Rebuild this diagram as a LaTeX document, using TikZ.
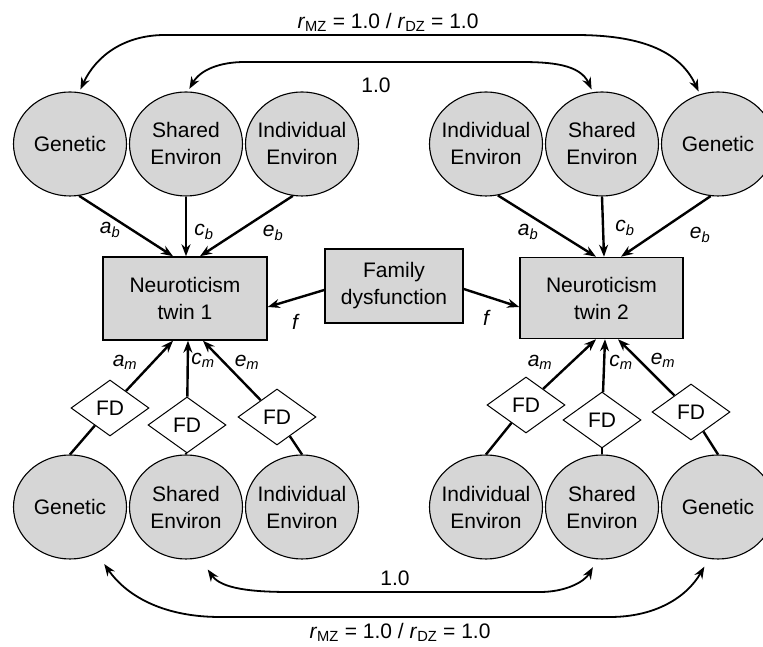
\documentclass[tikz,border=0pt]{standalone}
\usepackage{fontspec}
\setmainfont{Liberation Sans}
\usetikzlibrary{shapes.geometric,arrows.meta}
\definecolor{latentgray}{RGB}{214,214,214}

\begin{document}
\begin{tikzpicture}[x=1pt,y=1pt,>={Stealth[length=12pt,width=9pt]},node distance=116pt,
    font=\fontsize{21}{27}\selectfont,
    latent/.style={ellipse,draw,line width=1.1pt,fill=latentgray,minimum width=113pt,minimum height=104pt,inner xsep=-5pt,inner ysep=0pt,align=center},
    obs/.style={rectangle,draw,line width=1.5pt,fill=latentgray,inner sep=0pt,align=center},
    fdnode/.style={diamond,draw,line width=1pt,fill=white,minimum width=78pt,minimum height=56pt,inner sep=0pt},
    link/.style={-,line width=2.4pt},
    load/.style={->,line width=2.4pt},
    corr/.style={<->,line width=1.8pt},
    lbl/.style={font=\fontsize{21}{24}\selectfont\itshape}]

\useasboundingbox (0,0) rectangle (763,647);

% twin 1, biometric factors above
\node[latent] (gen1) at (70,503) {Genetic};
\node[latent] (sha1) [right of = gen1] {Shared\\Environ};
\node[latent] (ind1) [right of = sha1] {Individual\\Environ};
% twin 2
\node[latent] (gen2) at (718,503) {Genetic};
\node[latent] (sha2) [left of = gen2] {Shared\\Environ};
\node[latent] (ind2) [left of = sha2] {Individual\\Environ};

% moderated factors below
\node[latent] (gen3) [below of = gen1, node distance=363pt] {Genetic};
\node[latent] (sha3) [below of = sha1, node distance=363pt] {Shared\\Environ};
\node[latent] (ind3) [below of = ind1, node distance=363pt] {Individual\\Environ};
\node[latent] (gen4) [below of = gen2, node distance=363pt] {Genetic};
\node[latent] (sha4) [below of = sha2, node distance=363pt] {Shared\\Environ};
\node[latent] (ind4) [below of = ind2, node distance=363pt] {Individual\\Environ};

% phenotypes and moderator
\node[obs, minimum width=164pt, minimum height=83pt] (tw1) at (185,348.5) {Neuroticism\\twin 1};
\node[obs, minimum width=163pt, minimum height=81pt] (tw2) at (601.5,349) {Neuroticism\\twin 2};
\node[obs, minimum width=138pt, minimum height=74pt] (fam) at (394,361) {Family\\dysfunction};

\node[fdnode] (fd1) at (110,239) {FD};
\node[fdnode] (fd2) at (187,222) {FD};
\node[fdnode] (fd3) at (277,230) {FD};
\node[fdnode] (fd4) at (526,242) {FD};
\node[fdnode] (fd5) at (602,227) {FD};
\node[fdnode] (fd6) at (691,235) {FD};

% paths from the upper factors
\draw[load] (gen1.-80) -- ([xshift=-12pt]tw1.north);
\draw[load] (sha1.south) -- ([xshift=1pt]tw1.north);
\draw[load] (ind1.-100) -- ([xshift=15pt]tw1.north);
\draw[load] (ind2.-77) -- ([xshift=-5.5pt]tw2.north);
\draw[load] (sha2.south) -- ([xshift=2.5pt]tw2.north);
\draw[load] (gen2.-98) -- ([xshift=19.5pt]tw2.north);

% moderated paths through FD
\draw[link] (gen3.north) -- (fd1);
\draw[load] (fd1) -- ([xshift=-12pt]tw1.south);
\draw[link] (sha3.north) -- (fd2);
\draw[load] (fd2) -- ([xshift=3pt]tw1.south);
\draw[link] (ind3.north) -- (fd3);
\draw[load] (fd3) -- ([xshift=18pt]tw1.south);
\draw[link] (ind4.north) -- (fd4);
\draw[load] (fd4) -- ([xshift=-5.5pt]tw2.south);
\draw[link] (sha4.north) -- (fd5);
\draw[load] (fd5) -- ([xshift=3.5pt]tw2.south);
\draw[link] (gen4.north) -- (fd6);
\draw[load] (fd6) -- ([xshift=16.5pt]tw2.south);

% family dysfunction main effect
\draw[load] ([yshift=-4pt]fam.west) -- ([yshift=-8.5pt]tw1.east);
\draw[load] ([yshift=-3pt]fam.east) -- ([yshift=-9pt]tw2.west);

% cross-twin correlations
\coordinate (ot1) at (165,612);
\coordinate (ot2) at (575,612);
\coordinate (it1) at (245,585);
\coordinate (it2) at (520,585);
\coordinate (ob1) at (220,30);
\coordinate (ob2) at (610,30);
\coordinate (ib1) at (290,55);
\coordinate (ib2) at (540,55);
\draw[corr, shorten <=3pt, shorten >=3pt] (gen1.80) to[out=65,in=180] (ot1) -- (ot2) to[out=0,in=115] (gen2.110);
\draw[corr, shorten <=3pt, shorten >=3pt] (sha1.88) to[out=60,in=180] (it1) -- (it2) to[out=0,in=115] (sha2.100);
\draw[corr, shorten <=13pt, shorten >=9pt] (gen3.-60) to[out=-55,in=180] (ob1) -- (ob2) to[out=0,in=-120] (gen4.-100);
\draw[corr, shorten <=14pt, shorten >=9pt] (sha3.-75) to[out=-55,in=180] (ib1) -- (ib2) to[out=0,in=-120] (sha4.-95);

% labels
\node (rtop) at (388,625) {\textit{r}\textsubscript{MZ} = 1.0 / \textit{r}\textsubscript{DZ} = 1.0};
\node (onetop) at (376,562) {1.0};
\node (onebot) at (395,69) {1.0};
\node (rbot) at (400,15) {\textit{r}\textsubscript{MZ} = 1.0 / \textit{r}\textsubscript{DZ} = 1.0};

\node[lbl] (ab1) at (110,417) {a\textsubscript{b}};
\node[lbl] (cb1) at (204,415) {c\textsubscript{b}};
\node[lbl] (eb1) at (273,414) {e\textsubscript{b}};
\node[lbl] (ab2) at (528,415) {a\textsubscript{b}};
\node[lbl] (cb2) at (625,419) {c\textsubscript{b}};
\node[lbl] (eb2) at (700,412) {e\textsubscript{b}};
\node[lbl] (am1) at (125,285) {a\textsubscript{m}};
\node[lbl] (cm1) at (203,287) {c\textsubscript{m}};
\node[lbl] (em1) at (247,285) {e\textsubscript{m}};
\node[lbl] (am2) at (540,285) {a\textsubscript{m}};
\node[lbl] (cm2) at (621,285) {c\textsubscript{m}};
\node[lbl] (em2) at (663,287) {e\textsubscript{m}};
\node[lbl] (f1) at (295,325) {f};
\node[lbl] (f2) at (486,329) {f};

\end{tikzpicture}
\end{document}
